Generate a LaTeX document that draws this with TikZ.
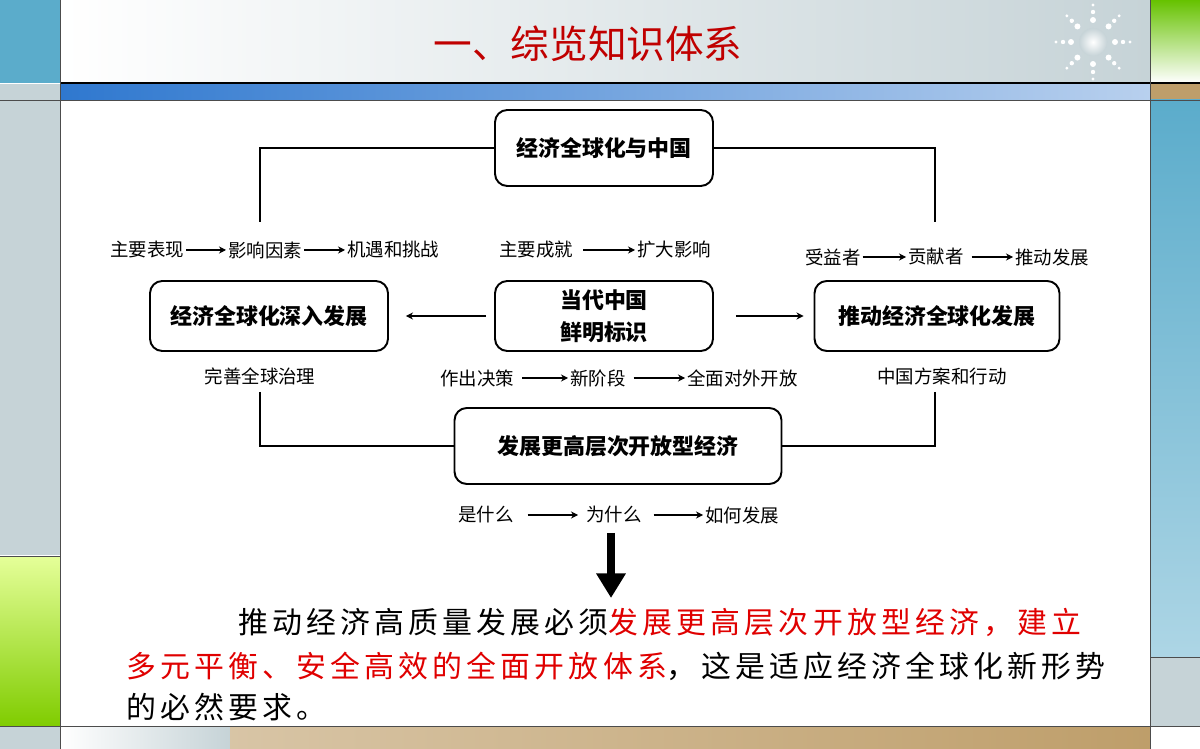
\documentclass[tikz,border=0pt]{standalone}
\usepackage{fontspec}
\setmainfont{Noto Sans CJK SC}
\newfontfamily\cjkls[LetterSpace=14]{Noto Sans CJK SC}
\usetikzlibrary{arrows.meta,calc}
\definecolor{tblue}{HTML}{5BACCB}
\definecolor{lgray}{HTML}{C6D3D7}
\definecolor{tan}{HTML}{BE9E6A}
\definecolor{ttl}{HTML}{C00000}
\definecolor{rd}{HTML}{E00000}
\definecolor{bbar}{HTML}{2F78CF}
\definecolor{bbar2}{HTML}{B8D0EE}
\begin{document}
\begin{tikzpicture}[x=0.02cm,y=-0.02cm,
 box/.style={draw,line width=1.1pt,rounded corners=7pt,font=\fontsize{12.5}{15}\selectfont\bfseries,align=center,inner sep=0pt},
 lbl/.style={font=\fontsize{10.5}{12}\selectfont,inner sep=1pt},
 sarr/.style={-{Stealth[length=4pt,width=4pt]},line width=0.6pt},
 conn/.style={line width=0.7pt}]
\useasboundingbox (0,0) rectangle (1200,749);
% background
\fill[white] (0,0) rectangle (1200,749);
\shade[left color=white,right color=lgray] (60,0) rectangle (1150,83);
\fill[tblue] (0,0) rectangle (60,83);
\shade[top color=green!60!black!60!yellow,bottom color=white] (1150,0) rectangle (1200,83);
\shade[left color=bbar,right color=bbar2] (60,84) rectangle (1150,100);
\fill[lgray] (0,84) rectangle (60,555);
\fill[tan] (1150,84) rectangle (1200,100);
\shade[top color=tblue,bottom color=tblue!50] (1150,100) rectangle (1200,657);
\fill[lgray] (1150,657) rectangle (1200,726);
\shade[top color=green!25!yellow!40,bottom color=green!60!black!50!yellow] (0,556) rectangle (60,726);
\fill[lgray] (0,727) rectangle (60,749);
\shade[left color=white,right color=lgray] (60,727) rectangle (230,749);
\shade[left color=tan!60,right color=tan] (230,727) rectangle (1150,749);
\draw[line width=0.8pt] (60,83) -- (1200,83);
\draw[line width=0.5pt,black!70] (0,100) -- (1200,100);
\draw[line width=0.5pt,black!70] (0,726) -- (1200,726);
\draw[line width=0.5pt,black!70] (60,0) -- (60,749) (1150,0) -- (1150,749) (0,556)--(60,556) (1150,657)--(1200,657);
% sparkle
\shade[inner color=white,outer color=lgray] (1093,42) circle (14);
\foreach \a in {0,45,...,315}{\foreach \r/\s in {22/3,30/2.2,37/1.6}{\fill[white] ($(1093,42)+(\a:\r)$) circle (\s);}}
% title
\node[font=\fontsize{22}{26}\selectfont,text=ttl] (title) at (588,44) {一、综览知识体系};
% boxes
\node[box,minimum width=218*0.02cm,minimum height=76*0.02cm] (top) at (604,148) {经济全球化与中国};
\node[box,minimum width=238*0.02cm,minimum height=70*0.02cm] (lft) at (269,316) {经济全球化深入发展};
\node[box,minimum width=218*0.02cm,minimum height=70*0.02cm] (ctr) at (604,316) {当代中国\\[3pt]鲜明标识};
\node[box,minimum width=245*0.02cm,minimum height=70*0.02cm] (rgt) at (937,316) {推动经济全球化发展};
\node[box,minimum width=327*0.02cm,minimum height=76*0.02cm] (bot) at (618,446) {发展更高层次开放型经济};
\coordinate (c1) at (260,222); \coordinate (c2) at (935,222);
\coordinate (c3) at (260,392); \coordinate (c4) at (935,392);
\draw[conn] (top.west) -| (c1);
\draw[conn] (top.east) -| (c2);
\draw[conn] (c3) |- (bot.west);
\draw[conn] (c4) |- (bot.east);
\draw[sarr] ([xshift=-8*0.02cm]ctr.west) -- ([xshift=17*0.02cm]lft.east);
\draw[sarr] ([xshift=22*0.02cm]ctr.east) -- ([xshift=-10*0.02cm]rgt.west);
% labels row 1
\node[lbl,anchor=west] (a1) at (108,250) {主要表现};
\node[lbl,anchor=west] (a2) at (226,250) {影响因素};
\node[lbl,anchor=west] (a3) at (345,250) {机遇和挑战};
\draw[sarr] (a1) -- (a2); \draw[sarr] (a2) -- (a3);
\node[lbl,anchor=west] (b1) at (497,250) {主要成就};
\node[lbl,anchor=west] (b2) at (635,250) {扩大影响};
\draw[sarr] ([xshift=8*0.02cm]b1.east) -- (b2);
\node[lbl,anchor=west] (d1) at (803,257) {受益者};
\node[lbl,anchor=west] (d2) at (906,257) {贡献者};
\node[lbl,anchor=west] (d3) at (1013,257) {推动发展};
\draw[sarr] (d1) -- (d2); \draw[sarr] ([xshift=6*0.02cm]d2.east) -- (d3);
% row 2
\node[lbl] (e1) at (260,376) {完善全球治理};
\node[lbl,anchor=west] (f1) at (438,378) {作出决策};
\node[lbl,anchor=west] (f2) at (568,378) {新阶段};
\node[lbl,anchor=west] (f3) at (685,378) {全面对外开放};
\draw[sarr] ([xshift=6*0.02cm]f1.east) -- (f2); \draw[sarr] ([xshift=6*0.02cm]f2.east) -- (f3);
\node[lbl] (g1) at (942,376) {中国方案和行动};
% row 3
\node[lbl,anchor=west] (h1) at (456,515) {是什么};
\node[lbl,anchor=west] (h2) at (584,515) {为什么};
\node[lbl,anchor=west] (h3) at (703,515) {如何发展};
\draw[sarr] ([xshift=12*0.02cm]h1.east) -- ([xshift=-6*0.02cm]h2.west); \draw[sarr] ([xshift=10*0.02cm]h2.east) -- (h3);
% big arrow
\coordinate (ba) at (611,533); \coordinate (bb) at (611,598);
\draw[line width=5pt,-{Triangle[length=14pt,width=16pt]}] (ba) -- (bb);
% paragraph
\node[anchor=west,inner sep=0pt,font=\fontsize{17}{20}\cjkls] (p1) at (238,622) {推动经济高质量发展必须\textcolor{rd}{发展更高层次开放型经济，建立}};
\node[anchor=west,inner sep=0pt,font=\fontsize{17}{20}\cjkls] (p2) at (126,666) {\textcolor{rd}{多元平衡、安全高效的全面开放体系}，这是适应经济全球化新形势};
\node[anchor=west,inner sep=0pt,font=\fontsize{17}{20}\cjkls] (p3) at (126,707) {的必然要求。};
\end{tikzpicture}
\end{document}
